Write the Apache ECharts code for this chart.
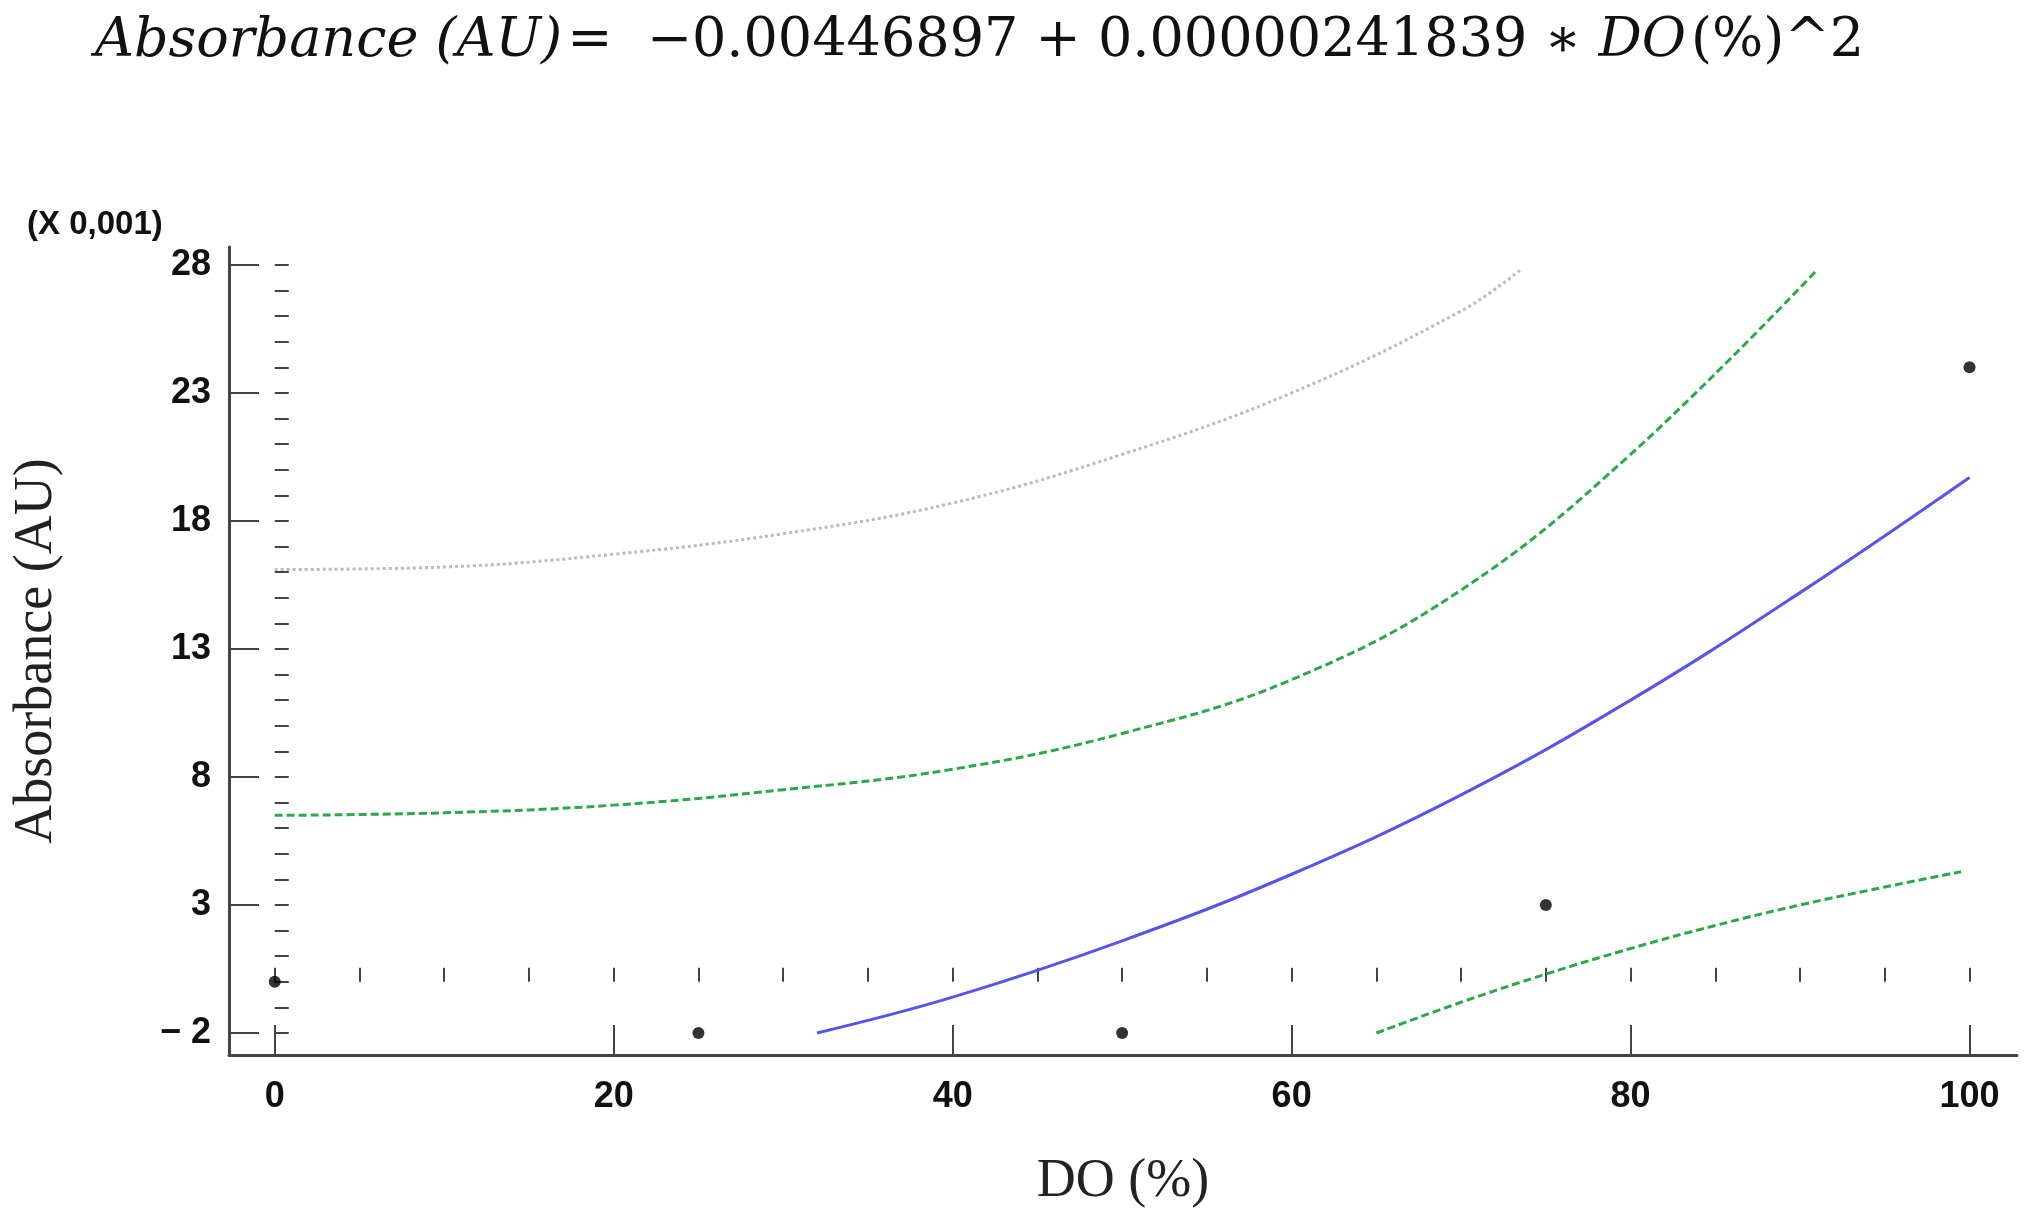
<!DOCTYPE html>
<html>
<head>
<meta charset="utf-8">
<script src="https://cdn.jsdelivr.net/npm/echarts@6/dist/echarts.min.js"></script>
<style>html,body{margin:0;padding:0;background:#fff}#main{width:2031px;height:1214px}</style>
</head>
<body>
<div id="main"></div>
<script>
// values in units of 0.001 AU
var points = [[0, 0], [25, -2], [50, -2], [75, 3], [100, 24]];
var fitLine = [[32, -2.0], [40, -0.6], [50, 1.6], [60, 4.2], [70, 7.3], [80, 11.0], [90, 15.2], [100, 19.7]];
var confUpper = [[0, 6.5], [10, 6.6], [20, 6.9], [30, 7.5], [40, 8.3], [50, 9.7], [60, 11.8], [70, 15.3], [80, 20.6], [91, 27.8]];
var confLower = [[65, -2.0], [70, -0.8], [75, 0.3], [80, 1.3], [85, 2.2], [90, 3.0], [95, 3.7], [99.5, 4.3]];
var predUpper = [[0, 16.1], [10, 16.2], [20, 16.7], [30, 17.5], [40, 18.7], [50, 20.6], [60, 23.0], [70, 26.2], [73.5, 27.8]];
var xLabels = [0, 20, 40, 60, 80, 100];
var yLabels = [-2, 3, 8, 13, 18, 23, 28];

var xMinor = [], yMinor = [];
for (var i = 0; i <= 100; i += 5) xMinor.push(i);
for (var j = -2; j <= 28; j++) yMinor.push(j);

var xMin = -2.7, xMax = 102.8, yMin = -2.86, yMax = 28.7;
var axisColor = '#444';

var myChart = echarts.init(document.getElementById('main'));
var option = {
	backgroundColor: '#fff',
	animation: false,
	title: [{
		left: 90, top: 10,
		text: '{i|Absorbance (AU)} {n|=  −0.00446897 + 0.00000241839 ∗ }{i|DO} {n|(%)^2}',
		textStyle: {
			rich: {
				i: { fontFamily: 'DejaVu Serif', fontStyle: 'italic', fontWeight: 'normal', fontSize: 54, color: '#111' },
				n: { fontFamily: 'DejaVu Serif', fontWeight: 'normal', fontSize: 54, color: '#111' }
			}
		}
	}, {
		left: 22, top: 203,
		text: '(X 0,001)',
		textStyle: { fontFamily: 'Liberation Sans', fontWeight: 'bold', fontSize: 33, color: '#111' }
	}],
	grid: { left: 229, right: 14, top: 247, bottom: 155 },
	xAxis: [{
		type: 'value', min: xMin, max: xMax,
		name: 'DO (%)', nameLocation: 'middle', nameGap: 100,
		nameTextStyle: { fontFamily: 'Liberation Serif', fontSize: 54, color: '#222' },
		splitLine: { show: false },
		axisLine: { onZero: false, lineStyle: { color: axisColor, width: 3 } },
		axisTick: { inside: true, length: 30, customValues: xLabels, lineStyle: { color: axisColor, width: 2 } },
		axisLabel: { customValues: xLabels, margin: 24, fontFamily: 'Liberation Sans', fontWeight: 'bold', fontSize: 36, color: '#111' }
	}, {
		type: 'value', min: xMin, max: xMax, position: 'bottom',
		splitLine: { show: false }, axisLine: { show: false }, axisLabel: { show: false },
		axisTick: { inside: true, length: 14, customValues: xMinor, lineStyle: { color: axisColor, width: 2 } }
	}],
	yAxis: [{
		type: 'value', min: yMin, max: yMax,
		name: 'Absorbance (AU)', nameLocation: 'middle', nameGap: 165,
		nameTextStyle: { fontFamily: 'Liberation Serif', fontSize: 54, color: '#222' },
		splitLine: { show: false },
		axisLine: { onZero: false, lineStyle: { color: axisColor, width: 3 } },
		axisTick: { inside: true, length: 30, customValues: yLabels, lineStyle: { color: axisColor, width: 2 } },
		axisLabel: {
			customValues: yLabels, margin: 18, fontFamily: 'Liberation Sans', fontWeight: 'bold', fontSize: 36, color: '#111',
			formatter: function (v) { return v < 0 ? '− ' + Math.abs(v) : String(v); }
		}
	}, {
		type: 'value', min: yMin, max: yMax, position: 'left',
		splitLine: { show: false }, axisLine: { show: false }, axisLabel: { show: false },
		axisTick: { inside: true, length: 14, customValues: yMinor, lineStyle: { color: axisColor, width: 2 } }
	}],
	series: [{
		type: 'line', data: predUpper, smooth: 0.4, symbol: 'none',
		lineStyle: { color: '#bbbbbb', width: 3, type: [3, 3] }
	}, {
		type: 'line', data: confUpper, smooth: 0.4, symbol: 'none',
		lineStyle: { color: '#2aa84a', width: 3, type: [8, 4] }
	}, {
		type: 'line', data: confLower, smooth: 0.4, symbol: 'none',
		lineStyle: { color: '#2aa84a', width: 3, type: [8, 4] }
	}, {
		type: 'line', data: fitLine, smooth: 0.4, symbol: 'none',
		lineStyle: { color: '#5555ee', width: 3 }
	}, {
		type: 'scatter', data: points, symbolSize: 12,
		itemStyle: { color: '#000' }
	}]
};
myChart.setOption(option);
</script>
</body>
</html>
